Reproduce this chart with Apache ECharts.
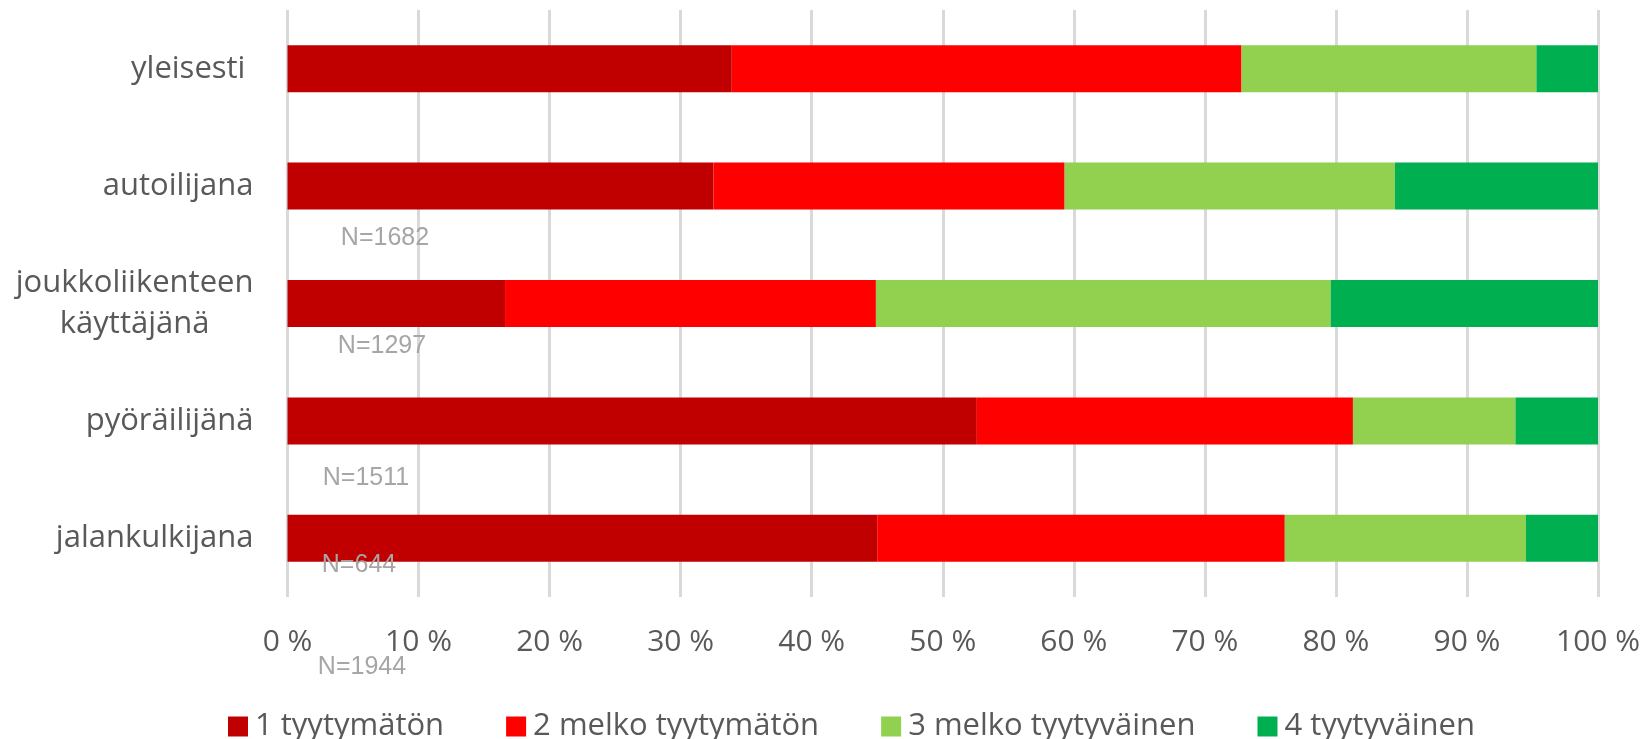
<!DOCTYPE html>
<html>
<head>
<meta charset="utf-8">
<title>Tyytyväisyys</title>
<script src="https://cdn.jsdelivr.net/npm/echarts@6/dist/echarts.min.js"></script>
<style>
  html, body { margin: 0; padding: 0; background: #fff; }
  #chart { width: 1647px; height: 739px; }
</style>
</head>
<body>
<div id="chart"></div>
<script>
// kategoriat ylhäältä alas
const categories = ['yleisesti ', 'autoilijana', 'joukkoliikenteen\nkäyttäjänä', 'pyöräilijänä', 'jalankulkijana']
const seriesNames = ['1 tyytymätön', '2 melko tyytymätön', '3 melko tyytyväinen', '4 tyytyväinen']

// osuudet prosentteina
const tyytymaton = [33.9, 32.5, 16.6, 52.6, 45.0]
const melkoTyytymaton = [38.9, 26.8, 28.3, 28.7, 31.1]
const melkoTyytyvainen = [22.5, 25.2, 34.7, 12.4, 18.4]
const tyytyvainen = [4.7, 15.5, 20.4, 6.3, 5.5]

// x-akseli
const xMin = 0
const xMax = 100
const xStep = 10

// vastaajamäärät (irralliset tekstit)
const nLabels = ['N=1682', 'N=1297', 'N=1511', 'N=644', 'N=1944']

const colors = ['#C00000', '#FF0000', '#92D050', '#00B050']
const nLabelPos = [[385, 238], [382, 346], [366, 478], [359, 565], [362, 667]]

const textColor = '#595959'
const font = 'Open Sans'

const chart = echarts.init(document.getElementById('chart'))

const values = [tyytymaton, melkoTyytymaton, melkoTyytyvainen, tyytyvainen]

const option = {
  animation: false,
  backgroundColor: '#fff',
  grid: { left: 287.5, right: 49, top: 10, bottom: 142, containLabel: false },
  legend: {
    data: seriesNames,
    left: 223,
    top: 706,
    icon: 'rect',
    itemWidth: 20,
    itemHeight: 20,
    itemGap: 62,
    selectedMode: false,
    textStyle: { fontFamily: font, fontSize: 31, color: textColor, padding: [0, 0, 0, 2] }
  },
  xAxis: {
    type: 'value',
    min: xMin,
    max: xMax,
    interval: xStep,
    axisLine: { show: false },
    axisTick: { show: false },
    axisLabel: {
      formatter: '{value} %',
      fontFamily: font,
      fontSize: 30,
      color: textColor,
      margin: 30
    },
    splitLine: { show: true, lineStyle: { color: '#d9d9d9', width: 3 } }
  },
  yAxis: {
    type: 'category',
    inverse: true,
    data: categories,
    axisLine: { show: false },
    axisTick: { show: false },
    axisLabel: {
      margin: 34,
      fontFamily: font,
      fontSize: 31,
      color: textColor,
      formatter: function (v) {
        const parts = v.split('\n')
        if (parts.length > 1) {
          return parts.map(p => '{c|' + p + '}').join('\n')
        }
        return v
      },
      rich: {
        c: { fontFamily: font, fontSize: 31, color: textColor, align: 'center', lineHeight: 41 }
      }
    }
  },
  series: values.map((arr, i) => ({
    name: seriesNames[i],
    type: 'bar',
    stack: 'total',
    barWidth: '40%',
    itemStyle: { color: colors[i] },
    data: arr
  })),
  graphic: nLabels.map((t, i) => ({
    type: 'text',
    x: nLabelPos[i][0],
    y: nLabelPos[i][1],
    z: 100,
    style: {
      text: t,
      fill: '#a6a6a6',
      font: '25px "Liberation Sans"',
      textAlign: 'center',
      textVerticalAlign: 'middle'
    }
  }))
}

chart.setOption(option)
</script>
</body>
</html>
